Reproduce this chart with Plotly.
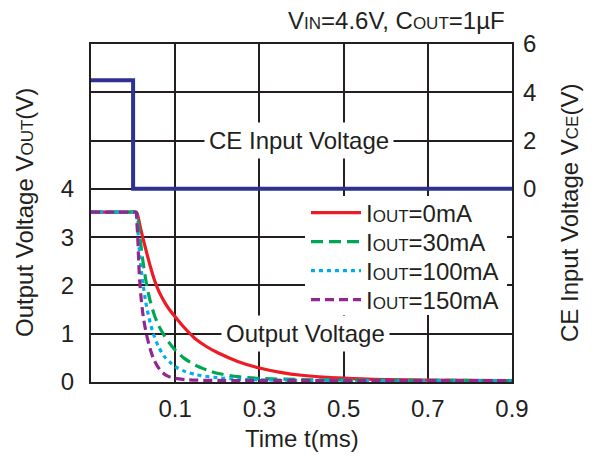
import plotly.graph_objects as go

# ---- data ----
ce_t = [-0.1, 0.0, 0.0, 0.9]
ce_v = [4.5, 4.5, 0.0, 0.0]

t_0mA = [-0.1, -0.05, -0.01, 0.004, 0.0085, 0.012, 0.016, 0.020, 0.024, 0.030, 0.036, 0.044, 0.052, 0.062, 0.075, 0.087, 0.1,
         0.115, 0.131, 0.15, 0.175, 0.2, 0.25, 0.3, 0.35, 0.4, 0.5, 0.6, 0.7, 0.9]
v_0mA = [3.52, 3.52, 3.52, 3.52, 3.51, 3.42, 3.25, 3.10, 2.96, 2.75, 2.55, 2.30, 2.08, 1.86, 1.65, 1.49, 1.35,
         1.19, 1.04, 0.88, 0.73, 0.61, 0.42, 0.29, 0.20, 0.14, 0.08, 0.05, 0.04, 0.03]

t_30mA = [-0.1, -0.05, -0.01, 0.004, 0.008, 0.011, 0.014, 0.016, 0.020, 0.025, 0.032, 0.040, 0.05, 0.06, 0.072, 0.085, 0.1,
          0.12, 0.15, 0.175, 0.2, 0.25, 0.3, 0.4, 0.5, 0.9]
v_30mA = [3.52, 3.52, 3.52, 3.52, 3.51, 3.38, 3.16, 3.02, 2.72, 2.40, 2.02, 1.70, 1.40, 1.18, 0.99, 0.82, 0.66,
          0.50, 0.34, 0.25, 0.18, 0.11, 0.075, 0.05, 0.04, 0.03]

t_100mA = [-0.1, -0.05, -0.01, 0.003, 0.007, 0.0095, 0.0125, 0.016, 0.020, 0.024, 0.030, 0.038, 0.048, 0.06, 0.075, 0.09, 0.1,
           0.12, 0.15, 0.2, 0.25, 0.3, 0.4, 0.9]
v_100mA = [3.52, 3.52, 3.52, 3.52, 3.51, 3.35, 3.0, 2.6, 2.28, 2.0, 1.66, 1.32, 1.0, 0.74, 0.52, 0.39, 0.32,
           0.23, 0.15, 0.09, 0.06, 0.045, 0.035, 0.03]

t_150mA = [-0.1, -0.05, -0.01, 0.003, 0.007, 0.009, 0.011, 0.0135, 0.016, 0.020, 0.025, 0.032, 0.04, 0.05, 0.064, 0.08, 0.1,
           0.13, 0.2, 0.9]
v_150mA = [3.52, 3.52, 3.52, 3.52, 3.51, 3.3, 3.0, 2.45, 2.05, 1.65, 1.3, 0.98, 0.70, 0.45, 0.25, 0.13, 0.075,
           0.045, 0.032, 0.03]

x_ticks = [0.1, 0.3, 0.5, 0.7, 0.9]
y1_grid = [0, 1, 2, 3, 4, 5, 6, 7]
y1_labels = ["0", "1", "2", "3", "4", "", "", ""]
y2_ticks = [0, 2, 4, 6]

FONT = "Liberation Sans, Arial, sans-serif"
TXT = "#231f20"
FS = 24
SM = 17
S = "<span style='font-size:{}px'>{}</span>"

# plot area in figure pixels (page has an 8px body margin)
L, T, PW, PH = 83, 36, 421, 338
def px(xp):  # page x -> paper x
    return (xp - 8 - L) / PW
def py(yp):  # page y -> paper y
    return 1 - (yp - 8 - T) / PH

fig = go.Figure()

series = [
    (t_0mA, v_0mA, "#ed1c24", "solid", "I" + S.format(SM, "OUT") + "=0mA", 213),
    (t_30mA, v_30mA, "#00a651", "12px,6px", "I" + S.format(SM, "OUT") + "=30mA", 242),
    (t_100mA, v_100mA, "#00aeef", "4px,4px", "I" + S.format(SM, "OUT") + "=100mA", 271),
    (t_150mA, v_150mA, "#92278f", "9px,5px", "I" + S.format(SM, "OUT") + "=150mA", 300),
]
legends = {}
for i, (t, v, c, d, name, ly) in enumerate(series):
    key = "legend" if i == 0 else f"legend{i + 1}"
    fig.add_trace(go.Scatter(x=t, y=v, mode="lines", name=name, legend=key,
                             line=dict(color=c, width=3.2, dash=d, shape="spline", smoothing=0.8),
                             yaxis="y"))
    legends[key] = dict(x=px(306), y=py(ly), xanchor="left", yanchor="middle",
                        bgcolor="rgba(0,0,0,0)", borderwidth=0,
                        font=dict(size=FS, color=TXT), itemwidth=50)

fig.add_trace(go.Scatter(x=ce_t, y=ce_v, mode="lines", showlegend=False,
                         line=dict(color="#2e3192", width=4), yaxis="y2"))

fig.update_layout(
    width=596 - 8, height=460 - 8,
    margin=dict(l=L, r=596 - 8 - L - PW, t=T, b=460 - 8 - T - PH, autoexpand=False),
    paper_bgcolor="white", plot_bgcolor="white",
    font=dict(family=FONT, size=FS, color=TXT),
    showlegend=True,
    xaxis=dict(range=[-0.1, 0.9], tickvals=x_ticks, ticktext=[str(v) for v in x_ticks],
               showgrid=True, gridcolor="#231f20", gridwidth=1.5,
               showline=True, linecolor="#231f20", linewidth=2, mirror=True,
               zeroline=False, ticks="", ticklabelstandoff=4, automargin=False,
               tickfont=dict(size=FS)),
    yaxis=dict(range=[0, 7], tickvals=y1_grid, ticktext=y1_labels,
               showgrid=True, gridcolor="#231f20", gridwidth=1.5,
               showline=True, linecolor="#231f20", linewidth=2, mirror=True,
               zeroline=False, ticks="", ticklabelstandoff=10, automargin=False,
               tickfont=dict(size=FS)),
    yaxis2=dict(range=[-8, 6], tickvals=y2_ticks, overlaying="y", side="right",
                showgrid=False, zeroline=False, showline=False, ticks="",
                ticklabelstandoff=10, automargin=False, tickfont=dict(size=FS)),
    **legends,
)

# white backdrop behind the legend block
fig.add_shape(type="rect", xref="paper", yref="paper",
              x0=px(305), x1=px(507), y0=py(315), y1=py(196),
              fillcolor="white", line=dict(width=0), layer="above")

fig.add_annotation(text="CE Input Voltage", x=0.394, y=2.0, xref="x", yref="y2",
                   showarrow=False, bgcolor="white", font=dict(size=FS, color=TXT),
                   borderpad=4)
fig.add_annotation(text="Output Voltage", x=0.41, y=1.0, xref="x", yref="y",
                   showarrow=False, bgcolor="white", font=dict(size=FS, color=TXT),
                   borderpad=4)
fig.add_annotation(text="V" + S.format(SM, "IN") + "=4.6V, C" + S.format(SM, "OUT") + "=1µF",
                   x=px(507), xref="paper", y=py(20), yref="paper",
                   xanchor="right", yanchor="middle",
                   showarrow=False, font=dict(size=FS, color=TXT))
fig.add_annotation(text="Time t(ms)", x=0.5, y=py(438), xref="paper", yref="paper",
                   xanchor="center", yanchor="middle", showarrow=False,
                   font=dict(size=FS, color=TXT))
fig.add_annotation(text="Output Voltage V" + S.format(SM, "OUT") + "(V)", x=px(24), y=0.5,
                   xref="paper", yref="paper", xanchor="center", yanchor="middle",
                   textangle=-90, showarrow=False, font=dict(size=FS, color=TXT))
fig.add_annotation(text="CE Input Voltage V" + S.format(SM, "CE") + "(V)", x=px(569), y=0.5,
                   xref="paper", yref="paper", xanchor="center", yanchor="middle",
                   textangle=-90, showarrow=False, font=dict(size=FS, color=TXT))

fig.write_html("out.html")
